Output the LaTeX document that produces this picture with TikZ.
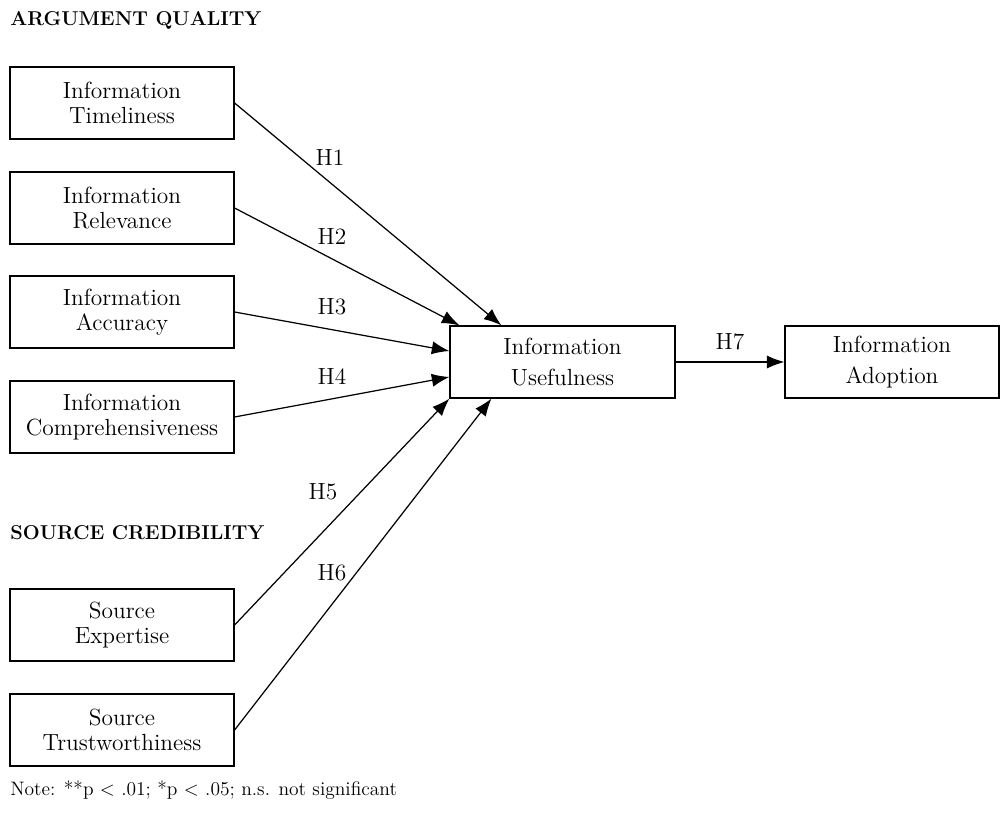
\documentclass[tikz,border=0pt]{standalone}
\usepackage{tikz}
\usetikzlibrary{arrows.meta}

\tikzset{
  factor/.style={draw, line width=0.7pt, minimum width=4.48cm, minimum height=1.44cm,
    align=center, inner sep=2pt, font=\fontsize{13.3}{14}\selectfont},
  outcome/.style={factor, font=\fontsize{13.3}{17.8}\selectfont},
  heading/.style={anchor=west, inner sep=0pt, font=\bfseries\fontsize{11.4}{13}\selectfont},
  hyp/.style={-{Latex[length=10pt,width=7.5pt]}, line width=0.7pt},
  hlabel/.style={font=\fontsize{13.3}{14}\selectfont}
}

\begin{document}
\begin{tikzpicture}[x=0.02cm, y=-0.02cm]
    \useasboundingbox (0,0) rectangle (1000,813);

    % Headings
    \node[heading] (aq) at (10,20) {ARGUMENT QUALITY};
    \node[heading] (sc) at (10,533) {SOURCE CREDIBILITY};

    % Argument quality
    \node[factor] (time) at (122,103) {Information\\Timeliness};
    \node[factor] (rel) at (122,208) {Information\\Relevance};
    \node[factor] (acc) at (122,312) {Information\\Accuracy};
    \node[factor] (comp) at (122,417) {Information\\Comprehensiveness};

    % Source credibility
    \node[factor] (exp) at (122,625) {Source\\Expertise};
    \node[factor] (trust) at (122,730) {Source\\Trustworthiness};

    % Usefulness and adoption
    \node[outcome, minimum width=4.5cm] (use) at (562.5,362) {Information\\Usefulness};
    \node[outcome, minimum width=4.28cm] (adopt) at (892,362) {Information\\Adoption};

    % Hypotheses
    \draw[hyp] (time.east) -- ([xshift=1.04cm]use.north west);
    \draw[hyp] (rel.east) -- ([xshift=0.2cm]use.north west);
    \draw[hyp] (acc.east) -- ([yshift=0.22cm]use.west);
    \draw[hyp] (comp.east) -- ([yshift=-0.3cm]use.west);
    \draw[hyp] (exp.east) -- (use.south west);
    \draw[hyp] (trust.east) -- ([xshift=0.84cm]use.south west);
    \draw[hyp] (use.east) -- (adopt.west);

    \node[hlabel] (h1) at (330,158) {H1};
    \node[hlabel] (h2) at (332,237) {H2};
    \node[hlabel] (h3) at (332,307) {H3};
    \node[hlabel] (h4) at (332,377) {H4};
    \node[hlabel] (h5) at (323,492) {H5};
    \node[hlabel] (h6) at (332,573) {H6};
    \node[hlabel] (h7) at (730,342) {H7};

    % Note
    \node[anchor=west, inner sep=0pt, font=\fontsize{11.1}{13}\selectfont] (note) at (10,790)
        {Note: **p $<$ .01; *p $<$ .05; n.s. not significant};
\end{tikzpicture}
\end{document}
